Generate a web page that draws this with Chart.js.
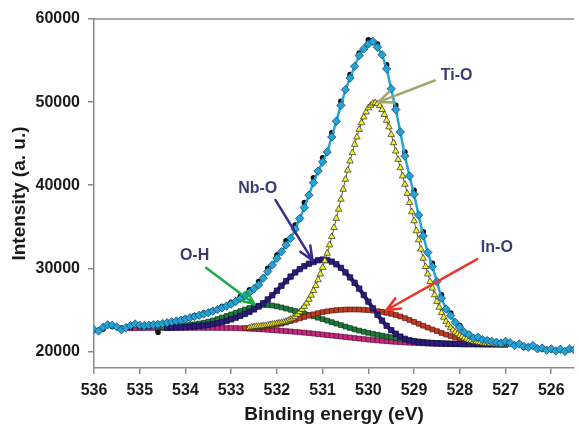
<!DOCTYPE html>
<html>
<head>
<meta charset="utf-8">
<script src="https://cdn.jsdelivr.net/npm/chart.js@4.4.1/dist/chart.umd.min.js"></script>
<style>
  html, body { margin: 0; padding: 0; background: #ffffff; }
  #xps { display: block; }
</style>
</head>
<body>
<canvas id="xps" width="579" height="426"></canvas>
<script>
// tick labels
var xTicks = [536, 535, 534, 533, 532, 531, 530, 529, 528, 527, 526];
var yTicks = [20000, 30000, 40000, 50000, 60000];

// measured spectrum (cyan diamonds), 0.1 eV steps from 536.0 down to 525.5
var measuredStart = 536.0;
var measured = [
  22600, 22450, 22900, 23200, 23150, 22950, 22600, 22850, 23100, 23300,
  23150, 23100, 23150, 23200, 23250, 23350, 23450, 23550, 23650, 23750,
  23900, 24050, 24200, 24350, 24500, 24650, 24850, 25050, 25250, 25450,
  25700, 26000, 26350, 26700, 27100, 27550, 28000, 28800, 29600, 30400,
  31200, 32000, 32800, 33600, 34700, 36000, 37300, 38800, 40300, 41700,
  42800, 44000, 45800, 47700, 49600, 51500, 52900, 54300, 55600, 56400,
  57000, 57300, 56600, 55700, 54000, 51600, 49100, 46400, 43500, 41100,
  38900, 36400, 33900, 31900, 30200, 28400, 26400, 25100, 24300, 23500,
  22900, 22300, 22000, 21600, 21700, 21400, 21300, 21200, 21100, 21000,
  21200, 21050, 20700, 20900, 20600, 20500, 20700, 20300, 20400, 20150,
  20300, 20050, 20250, 20000, 20300, 20200
];

// black dots behind the cyan ones, 0.2 eV steps from 535.8 down to 526.0
var rawStart = 535.8;
var raw = [
  22700, 23000, 22800, 22900, 23000, 23000, 22300, 23300, 23600, 23950,
  24300, 24600, 24900, 25400, 25900, 26600, 27400, 28400, 30000, 31600,
  33300, 35200, 37900, 40900, 43300, 46300, 50100, 53300, 55900, 57500,
  57000, 54500, 49600, 44000, 39400, 34400, 30600, 26800, 24600, 23100,
  22100, 21600, 21300, 21050, 21000, 20800, 20500, 20600, 20300, 20200
];

// Ti-O component (yellow triangles), 0.05 eV steps from 532.6 down to 527.0
var tiOStart = 532.6;
var tiO = [
  22850, 22900, 22950, 22980, 23000, 23030, 23050, 23100, 23150, 23200,
  23250, 23300, 23350, 23400, 23450, 23520, 23600, 23720, 23850, 24000,
  24200, 24450, 24750, 25050, 25400, 25800, 26250, 26750, 27300, 27900,
  28600, 29300, 30100, 30900, 31800, 32800, 33800, 34900, 36000, 37100,
  38300, 39500, 40700, 41800, 42900, 43900, 44900, 45800, 46700, 47500,
  48200, 48800, 49300, 49600, 49850, 49900, 49800, 49550, 49100, 48500,
  47800, 47000, 46100, 45100, 44100, 43100, 42100, 41100, 40100, 39000,
  37900, 36800, 35700, 34500, 33400, 32300, 31200, 30200, 29300, 28400,
  27600, 26800, 26000, 25300, 24650, 24100, 23600, 23200, 22850, 22550,
  22300, 22100, 21900, 21750, 21600, 21470, 21350, 21270, 21200, 21150,
  21100, 21050, 21000, 20970, 20950, 20920, 20900, 20880, 20870, 20860,
  20850, 20845, 20840
];

// Nb-O component (dark blue), 0.1 eV steps from 534.4 down to 527.0
var nbOStart = 534.4;
var nbO = [
  22830, 22850, 22870, 22900, 22930,
  22970, 23010, 23060, 23120, 23190, 23280, 23390, 23520, 23670, 23850,
  24050, 24270, 24500, 24750, 25050, 25400, 25800, 26250, 26750, 27300,
  27900, 28450, 29000, 29500, 29900, 30250, 30550, 30750, 30960, 31050,
  30990, 30800, 30480, 30050, 29500, 28900, 28250, 27550, 26780, 25980,
  25180, 24400, 23700, 23080, 22550, 22120, 21780, 21520, 21330, 21200,
  21110, 21050, 21010, 20980, 20960, 20940, 20925, 20910, 20900, 20890,
  20882, 20876, 20870, 20865, 20860, 20855, 20851, 20848, 20845, 20842
];

// O-H component (green), 0.1 eV steps from 534.6 down to 527.0
var oHStart = 534.6;
var oH = [
  22850, 22880, 22910, 22950, 23000, 23050, 23110,
  23180, 23260, 23350, 23450, 23570, 23720, 23890, 24070, 24260, 24450,
  24650, 24850, 25040, 25220, 25380, 25500, 25570, 25570, 25520, 25420,
  25290, 25150, 25000, 24850, 24700, 24540, 24380, 24220, 24050, 23880,
  23700, 23520, 23340, 23160, 22980, 22810, 22650, 22500, 22360, 22230,
  22110, 22000, 21900, 21800, 21700, 21600, 21500, 21410, 21330, 21260,
  21200, 21140, 21090, 21050, 21010, 20980, 20960, 20940, 20920, 20905,
  20895, 20885, 20875, 20868, 20862, 20856, 20851, 20847, 20844, 20842
];

// In-O component (red), 0.1 eV steps from 532.7 down to 527.0
var inOStart = 532.7;
var inO = [
  22800, 22810, 22830, 22860, 22900, 22980, 23080, 23200,
  23330, 23480, 23640, 23800, 23970, 24140, 24300, 24460, 24600, 24720,
  24820, 24900, 24960, 25000, 25030, 25040, 25040, 25030, 25000, 24960,
  24910, 24840, 24750, 24640, 24520, 24380, 24200, 24000, 23780, 23550,
  23320, 23090, 22860, 22640, 22430, 22220, 22020, 21840, 21680, 21530,
  21400, 21290, 21190, 21110, 21040, 20990, 20950, 20910, 20880, 20860
];

// background (magenta), 0.1 eV steps from 535.2 down to 527.0
var bgStart = 535.2;
var background = [
  22780, 22790, 22800, 22810, 22820, 22820, 22830, 22830, 22830, 22830,
  22830, 22830, 22830, 22830, 22830, 22830, 22830, 22830, 22830, 22820,
  22820, 22810, 22810,
  22800, 22780, 22760, 22730, 22700, 22670, 22640, 22600, 22560, 22520,
  22480, 22440, 22400, 22350, 22300, 22250, 22200, 22140, 22080, 22020,
  21960, 21900, 21840, 21780, 21720, 21660, 21600, 21540, 21480, 21420,
  21370, 21320, 21270, 21220, 21180, 21140, 21100, 21070, 21040, 21010,
  20990, 20970, 20950, 20930, 20920, 20910, 20900, 20890, 20880, 20870,
  20865, 20860, 20857, 20854, 20851, 20848, 20846, 20844, 20842, 20840
];

// peak labels with their arrows (data coordinates)
var peakLabels = [
  { text: 'Ti-O', at: [528.07, 53150], from: [528.55, 52600], to: [529.78, 50000], color: '#a5a56e' },
  { text: 'Nb-O', at: [532.42, 39550], from: [532.03, 38200], to: [531.22, 30950], color: '#3b2a8e' },
  { text: 'O-H', at: [533.80, 31550], from: [533.55, 30050], to: [532.49, 25700], color: '#1faa48' },
  { text: 'In-O', at: [527.19, 32550], from: [527.62, 31100], to: [529.61, 24950], color: '#ea3529' }
];

function toPoints(start, step, values) {
  return values.map(function (v, i) {
    return { x: Math.round((start - i * step) * 100) / 100, y: v };
  });
}

var axisGrey = '#8c8c8c';
var labelFont = { family: 'Liberation Sans, Arial, sans-serif', size: 16, weight: 'bold' };

var labelsPlugin = {
  id: 'peakLabels',
  afterDatasetsDraw: function (chart) {
    var c = chart.ctx;
    var xs = chart.scales.x, ys = chart.scales.y;
    var area = chart.chartArea;
    c.save();
    // top frame line
    c.strokeStyle = axisGrey;
    c.lineWidth = 1.5;
    c.beginPath();
    c.moveTo(area.left, area.top);
    c.lineTo(area.right, area.top);
    c.stroke();

    peakLabels.forEach(function (p) {
      var x1 = xs.getPixelForValue(p.from[0]), y1 = ys.getPixelForValue(p.from[1]);
      var x2 = xs.getPixelForValue(p.to[0]), y2 = ys.getPixelForValue(p.to[1]);
      var ang = Math.atan2(y2 - y1, x2 - x1);
      c.strokeStyle = p.color;
      c.lineWidth = 2.5;
      c.lineCap = 'round';
      c.beginPath();
      c.moveTo(x1, y1);
      c.lineTo(x2, y2);
      c.moveTo(x2, y2);
      c.lineTo(x2 - 15 * Math.cos(ang - 0.4), y2 - 15 * Math.sin(ang - 0.4));
      c.moveTo(x2, y2);
      c.lineTo(x2 - 15 * Math.cos(ang + 0.4), y2 - 15 * Math.sin(ang + 0.4));
      c.stroke();

      c.fillStyle = '#3c3c70';
      c.font = 'bold 16px "Liberation Sans", Arial, sans-serif';
      c.textAlign = 'center';
      c.textBaseline = 'middle';
      c.fillText(p.text, xs.getPixelForValue(p.at[0]), ys.getPixelForValue(p.at[1]));
    });
    c.restore();
  }
};

var ctx = document.getElementById('xps').getContext('2d');
var xpsChart = new Chart(ctx, {
  type: 'scatter',
  data: {
    datasets: [
      {
        label: 'measured',
        data: toPoints(measuredStart, 0.1, measured),
        showLine: true,
        borderColor: '#23a4d6',
        borderWidth: 2.5,
        pointStyle: 'rectRot',
        pointRadius: 4.2,
        pointBackgroundColor: '#23a4d6',
        pointBorderColor: '#0d3b5a',
        pointBorderWidth: 0.7
      },
      {
        label: 'raw',
        data: toPoints(rawStart, 0.2, raw),
        showLine: false,
        pointStyle: 'circle',
        pointRadius: 2.8,
        pointBackgroundColor: '#111111',
        pointBorderColor: '#111111',
        pointBorderWidth: 0
      },
      {
        label: 'Ti-O',
        data: toPoints(tiOStart, 0.05, tiO),
        showLine: true,
        borderColor: '#333333',
        borderWidth: 0.8,
        pointStyle: 'triangle',
        pointRadius: 3.8,
        pointBackgroundColor: '#f4f02a',
        pointBorderColor: '#2a2a2a',
        pointBorderWidth: 0.7
      },
      {
        label: 'Nb-O',
        data: toPoints(nbOStart, 0.1, nbO),
        showLine: true,
        borderColor: '#2c1c7a',
        borderWidth: 4,
        pointStyle: 'rect',
        pointRadius: 3.8,
        pointBackgroundColor: '#2c1c7a',
        pointBorderColor: '#140c45',
        pointBorderWidth: 0.7
      },
      {
        label: 'In-O',
        data: toPoints(inOStart, 0.1, inO),
        showLine: true,
        borderColor: '#c23a26',
        borderWidth: 4,
        pointStyle: 'rect',
        pointRadius: 3.4,
        pointBackgroundColor: '#c23a26',
        pointBorderColor: '#5a1a10',
        pointBorderWidth: 0.7
      },
      {
        label: 'O-H',
        data: toPoints(oHStart, 0.1, oH),
        showLine: true,
        borderColor: '#1e7a3b',
        borderWidth: 4,
        pointStyle: 'rect',
        pointRadius: 3.4,
        pointBackgroundColor: '#1e7a3b',
        pointBorderColor: '#0b3a1a',
        pointBorderWidth: 0.7
      },
      {
        label: 'background',
        data: toPoints(bgStart, 0.1, background),
        showLine: true,
        borderColor: '#c8287e',
        borderWidth: 4,
        pointStyle: 'rect',
        pointRadius: 3.4,
        pointBackgroundColor: '#c8287e',
        pointBorderColor: '#5a1040',
        pointBorderWidth: 0.7
      }
    ]
  },
  options: {
    responsive: false,
    animation: false,
    layout: { padding: { top: 19, right: 0, left: 0, bottom: 0 } },
    plugins: {
      legend: { display: false },
      tooltip: { enabled: false }
    },
    scales: {
      x: {
        type: 'linear',
        reverse: true,
        min: 525.5,
        max: 536,
        afterBuildTicks: function (axis) {
          axis.ticks = xTicks.map(function (v) { return { value: v }; });
        },
        afterFit: function (axis) { axis.height = 58; },
        grid: { drawOnChartArea: false, drawTicks: true, tickLength: 6, color: axisGrey, lineWidth: 1.5 },
        border: { display: true, color: axisGrey, width: 1.5 },
        ticks: {
          color: '#1a1a1a', font: labelFont, padding: 7, maxRotation: 0, autoSkip: false,
          callback: function (v) { return String(v); }
        },
        title: {
          display: true,
          text: 'Binding energy (eV)',
          color: '#1a1a1a',
          font: { family: 'Liberation Sans, Arial, sans-serif', size: 19, weight: 'bold' },
          padding: { top: 0, bottom: 0 }
        }
      },
      y: {
        type: 'linear',
        min: 18000,
        max: 60000,
        afterBuildTicks: function (axis) {
          axis.ticks = yTicks.map(function (v) { return { value: v }; });
        },
        afterFit: function (axis) { axis.width = 94; },
        grid: { drawOnChartArea: false, drawTicks: true, tickLength: 6, color: axisGrey, lineWidth: 1.5 },
        border: { display: true, color: axisGrey, width: 1.5 },
        ticks: {
          color: '#1a1a1a', font: labelFont, padding: 8,
          callback: function (v) { return String(v); }
        },
        title: {
          display: true,
          text: 'Intensity (a. u.)',
          color: '#1a1a1a',
          font: { family: 'Liberation Sans, Arial, sans-serif', size: 19, weight: 'bold' },
          padding: { top: 8, bottom: 0 }
        }
      }
    }
  },
  plugins: [labelsPlugin]
});
</script>
</body>
</html>
